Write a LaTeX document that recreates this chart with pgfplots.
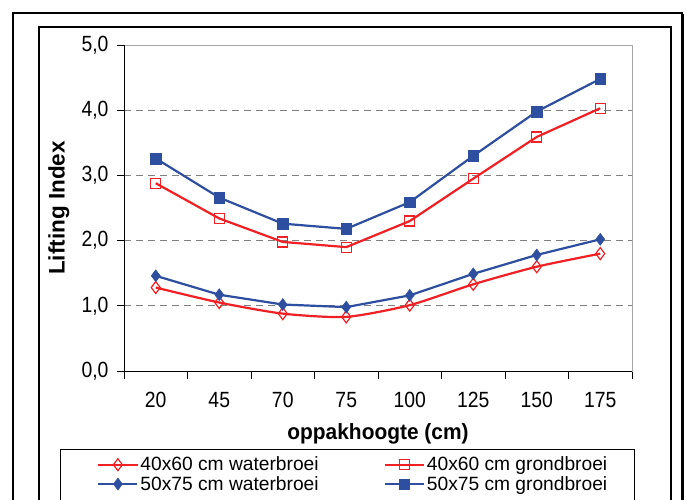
\documentclass[border=0pt]{standalone}
\usepackage{fontspec}
\setmainfont{Liberation Sans}
\newfontfamily\condfont{Liberation Sans}[FakeStretch=0.88]
\newfontfamily\semifont{Liberation Sans}[FakeStretch=0.95]
\usepackage{pgfplots}
\pgfplotsset{compat=1.18}
\definecolor{myred}{RGB}{240,32,36}
\definecolor{myblue}{RGB}{46,78,160}
\begin{document}
\begin{tikzpicture}
\useasboundingbox (0,0) rectangle (687pt,-499pt);
\clip (0,0) rectangle (687pt,-499pt);
\begin{scope}[x=1pt,y=-1pt]
\fill[white] (0,0) rectangle (687,499);
\draw[line width=1.3pt] (13,13) rectangle (682,530);
\draw[line width=3pt] (682.5,14) -- (682.5,530);
\draw[line width=1.2pt] (39,27) rectangle (671,530);
\draw[line width=0.8pt] (60,449) rectangle (634,530);
\end{scope}
\begin{axis}[
  at={(124pt,-371pt)}, anchor=south west,
  scale only axis, width=508pt, height=326pt,
  font=\fontsize{20}{24}\selectfont,
  xmin=-0.5, xmax=7.5, ymin=0, ymax=5,
  xtick={0,...,7}, xticklabels={20,45,70,75,100,125,150,175},
  minor xtick={-0.5,0.5,...,7.5},
  ytick={0,1,...,5},
  tick align=outside, xtick pos=bottom, ytick pos=left,
  major tick length=7pt, minor tick length=8pt,
  major x tick style={draw=none},
  minor x tick style={black, line width=0.8pt},
  major y tick style={black, line width=0.8pt},
  axis line style={draw=gray!70, line width=1pt},
  ymajorgrids, grid style={gray, dash pattern=on 7pt off 5pt, line width=1pt},
  tick label style={font=\condfont\fontsize{22}{24}\selectfont},
  yticklabel={\pgfmathprintnumber[fixed,fixed zerofill,precision=1,use comma,assume math mode=true]{\tick}},
  yticklabel style={xshift=-5pt},
  xticklabel style={yshift=-11pt},
  xlabel={\semifont\fontsize{22}{24}\selectfont\bfseries oppakhoogte (cm)},
  ylabel={\fontsize{22.5}{24}\selectfont\bfseries Lifting Index},
  xlabel style={at={(axis description cs:0.5,-0.193)}, anchor=center},
  ylabel style={at={(axis description cs:-0.128,0.5)}, anchor=center},
  legend columns=2,
  legend cell align=left,
  legend style={draw=none, fill=none, inner sep=0pt,
    at={(axis description cs:-0.053,-0.26)}, anchor=north west,
    font=\fontsize{19.2}{20}\selectfont,
    nodes={inner xsep=2pt, inner ysep=1pt},
    row sep=2pt,
    /tikz/every even column/.append style={column sep=63pt}},
  legend image code/.code={\draw[mark repeat=2,mark phase=2,#1] plot coordinates {(0pt,0pt) (19.5pt,0pt) (39pt,0pt)};},
  after end axis/.code={\draw[black, line width=1pt] (rel axis cs:0,1) -- (rel axis cs:0,0) -- (rel axis cs:1,0);},
]
\addplot[myred, line width=2.2pt, smooth, tension=0.4, mark=diamond, mark size=6pt, mark options={fill=white, line width=1.2pt, solid}]
  coordinates {(0,1.28) (1,1.05) (2,0.88) (3,0.83) (4,1.01) (5,1.33) (6,1.60) (7,1.80)};
\addlegendentry{40x60 cm waterbroei}
\addplot[myred, line width=2.2pt, mark=square, mark size=5pt, mark options={fill=white, line width=1.2pt, solid}]
  coordinates {(0,2.88) (1,2.34) (2,1.98) (3,1.90) (4,2.30) (5,2.95) (6,3.59) (7,4.03)};
\addlegendentry{40x60 cm grondbroei}
\addplot[myblue, line width=2.2pt, mark=diamond*, mark size=6pt, mark options={line width=0.5pt, solid}]
  coordinates {(0,1.46) (1,1.17) (2,1.02) (3,0.98) (4,1.16) (5,1.49) (6,1.78) (7,2.02)};
\addlegendentry{50x75 cm waterbroei}
\addplot[myblue, line width=2.2pt, mark=square*, mark size=5.3pt, mark options={line width=0.5pt, solid}]
  coordinates {(0,3.26) (1,2.66) (2,2.26) (3,2.18) (4,2.59) (5,3.30) (6,3.98) (7,4.48)};
\addlegendentry{50x75 cm grondbroei}
\end{axis}
\end{tikzpicture}
\end{document}
